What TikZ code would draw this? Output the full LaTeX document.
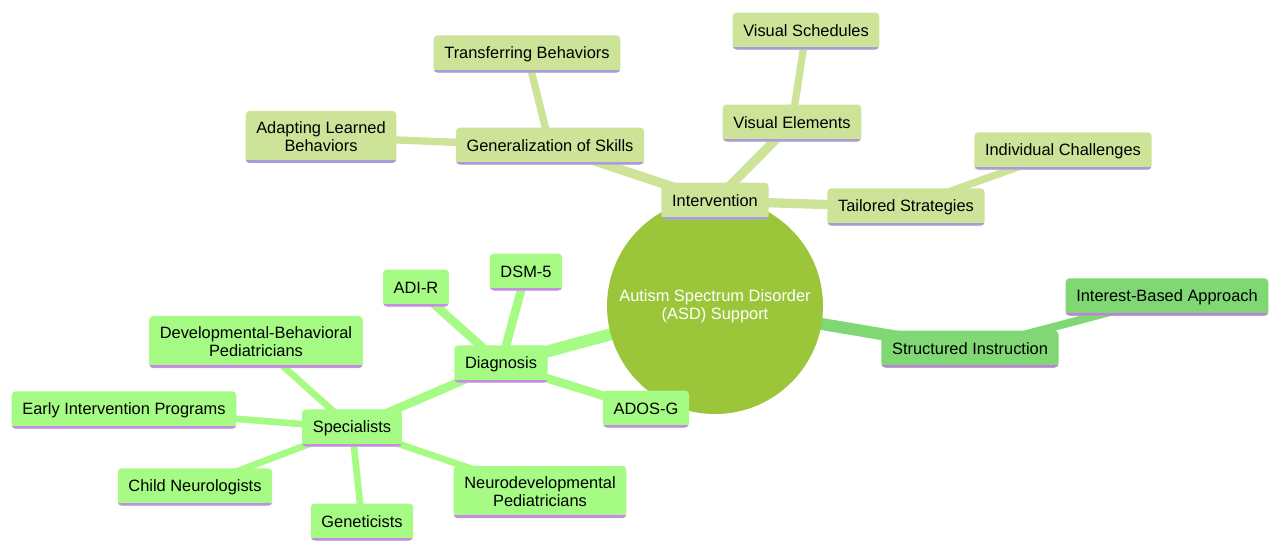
\documentclass[tikz,border=0pt]{standalone}
\usepackage{fontspec}
\setmainfont{Liberation Sans}
\usetikzlibrary{backgrounds}
\definecolor{asdroot}{HTML}{9BC63A}
\definecolor{asdint}{HTML}{CDE498}
\definecolor{asdintline}{HTML}{AA9CDC}
\definecolor{asddiag}{HTML}{A6FB84}
\definecolor{asddiagline}{HTML}{C98CE6}
\definecolor{asdinst}{HTML}{80D874}
\definecolor{asdinstline}{HTML}{C27FDD}

\begin{document}
\begin{tikzpicture}[
  x=0.75pt, y=-0.75pt,
  leaf/.style={rounded corners=3pt, minimum height=27.75pt, inner xsep=8pt,
    inner ysep=8.3pt, font=\fontsize{12.3}{13.5}\selectfont, align=center,
    path picture={\draw[line width=2.2pt, #1]
      ([yshift=1.1pt]path picture bounding box.south west) --
      ([yshift=1.1pt]path picture bounding box.south east);}},
  intbox/.style={leaf=asdintline, fill=asdint},
  diagbox/.style={leaf=asddiagline, fill=asddiag},
  instbox/.style={leaf=asdinstline, fill=asdinst},
  intlink/.style={draw=asdint, line width=#1},
  diaglink/.style={draw=asddiag, line width=#1},
  instlink/.style={draw=asdinst, line width=#1}
]
  \useasboundingbox (0,0) rectangle (1280,550);

  % --- Root ---
  \node[circle, fill=asdroot, minimum size=162pt, text=white, align=center,
    font=\fontsize{12.3}{13.5}\selectfont] (asd) at (715,306)
    {Autism Spectrum Disorder\\(ASD) Support};

  % --- Intervention ---
  \node[intbox] (interv) at (715,201) {Intervention};
  \node[intbox] (visel) at (792,123) {Visual Elements};
  \node[intbox] (vissch) at (806,31) {Visual Schedules};
  \node[intbox] (tailor) at (906,207) {Tailored Strategies};
  \node[intbox] (indiv) at (1063,151) {Individual Challenges};
  \node[intbox] (general) at (550,146) {Generalization of Skills};
  \node[intbox] (transf) at (527,54) {Transferring Behaviors};
  \node[intbox] (adapt) at (321,137) {Adapting Learned\\Behaviors};

  % --- Structured Instruction ---
  \node[instbox] (struct) at (970,349) {Structured Instruction};
  \node[instbox] (interest) at (1167,297) {Interest-Based Approach};

  % --- Diagnosis ---
  \node[diagbox] (diag) at (501,364) {Diagnosis};
  \node[diagbox] (dsm) at (526,272) {DSM-5};
  \node[diagbox] (adir) at (416,288) {ADI-R};
  \node[diagbox] (ados) at (646,409) {ADOS-G};
  \node[diagbox] (spec) at (352,428) {Specialists};
  \node[diagbox] (devbeh) at (256,342) {Developmental-Behavioral\\Pediatricians};
  \node[diagbox] (early) at (124,410) {Early Intervention Programs};
  \node[diagbox] (neuro) at (195,487) {Child Neurologists};
  \node[diagbox] (genet) at (362,522) {Geneticists};
  \node[diagbox] (neurodev) at (540,492) {Neurodevelopmental\\Pediatricians};

  % Links
  \begin{scope}[on background layer]
    \draw[intlink=10pt] (asd.center) -- (interv.center);
    \draw[intlink=7pt] (interv.center) -- (visel.center);
    \draw[intlink=5.5pt] (visel.center) -- (vissch.center);
    \draw[intlink=7pt] (interv.center) -- (tailor.center);
    \draw[intlink=5.5pt] (tailor.center) -- (indiv.center);
    \draw[intlink=7pt] (interv.center) -- (general.center);
    \draw[intlink=5.5pt] (general.center) -- (transf.center);
    \draw[intlink=5.5pt] (general.center) -- (adapt.center);

    \draw[instlink=9pt] (asd.center) -- (struct.center);
    \draw[instlink=6pt] (struct.center) -- (interest.center);

    \draw[diaglink=9pt] (asd.center) -- (diag.center);
    \draw[diaglink=6.5pt] (diag.center) -- (dsm.center);
    \draw[diaglink=6.5pt] (diag.center) -- (adir.center);
    \draw[diaglink=6.5pt] (diag.center) -- (ados.center);
    \draw[diaglink=6.5pt] (diag.center) -- (spec.center);
    \draw[diaglink=5pt] (spec.center) -- (devbeh.center);
    \draw[diaglink=5pt] (spec.center) -- (early.center);
    \draw[diaglink=5pt] (spec.center) -- (neuro.center);
    \draw[diaglink=5pt] (spec.center) -- (genet.center);
    \draw[diaglink=5pt] (spec.center) -- (neurodev.center);
  \end{scope}

\end{tikzpicture}
\end{document}
